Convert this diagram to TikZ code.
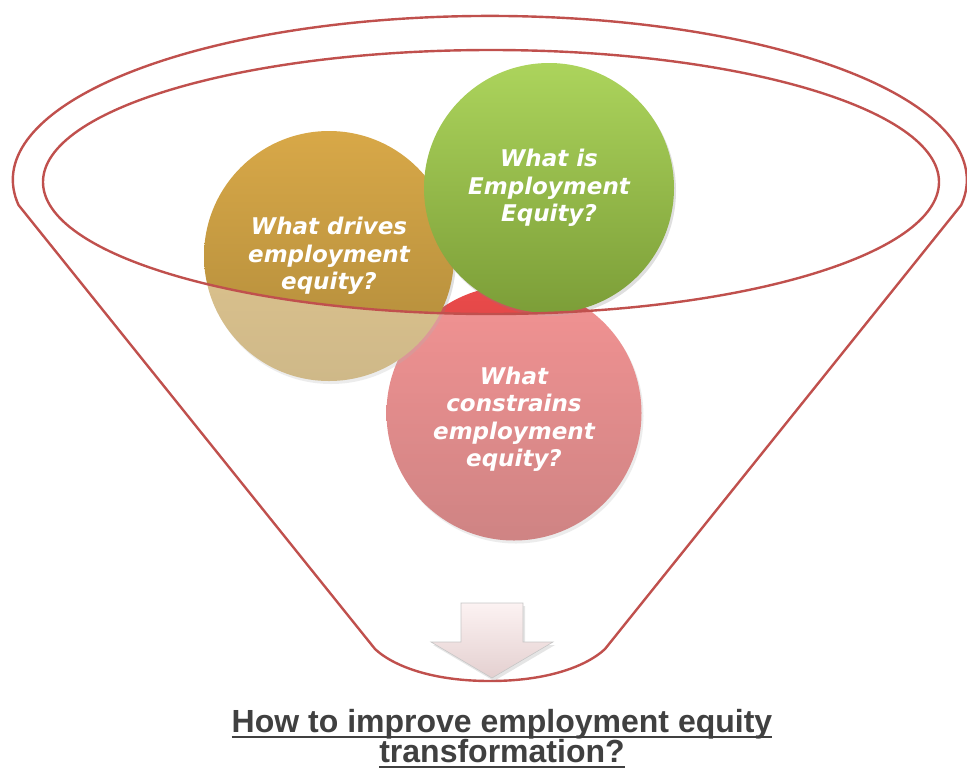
\documentclass[tikz,border=0pt]{standalone}
\usepackage{fontspec}
\setmainfont{Liberation Sans}
\newfontfamily\bubblefont{DejaVu Sans Bold Oblique}
\usetikzlibrary{shadows}

\definecolor{rimred}{RGB}{192,80,77}
\definecolor{goalgray}{RGB}{64,64,64}

\newcommand\thickul[1]{\setbox0\hbox{#1}\rlap{\rule[-5.5pt]{\wd0}{2.6pt}}\box0}

\tikzset{
  bubble/.style={circle, minimum size=250pt, inner sep=0pt, align=center, text=white,
    font=\bubblefont\fontsize{23}{27.5}\selectfont, shading=axis,
    drop shadow={shadow xshift=2pt, shadow yshift=-3pt, opacity=.25}},
  rim/.style={draw=rimred, line width=2.4pt}
}

\begin{document}
\begin{tikzpicture}[x=1pt,y=-1pt]
  \useasboundingbox (0,0) rectangle (967,769);
  \coordinate (rimL) at (18.5,205);
  \coordinate (baseL) at (375,649);
  \coordinate (baseR) at (605,649);
  \coordinate (tip) at (490,681);

  \node[bubble, top color={rgb,255:red,235;green,75;blue,75}, bottom color={rgb,255:red,175;green,50;blue,50}, minimum size=255pt]
    (constrains) at (514,413) {\rule{0pt}{30pt}What\\constrains\\employment\\equity?};
  \node[bubble, top color={rgb,255:red,216;green,168;blue,72}, bottom color={rgb,255:red,175;green,138;blue,58}]
    (drives) at (329,256) {What drives\\employment\\equity?};
  \node[bubble, top color={rgb,255:red,172;green,212;blue,92}, bottom color={rgb,255:red,124;green,158;blue,56}]
    (whatis) at (549,188) {What is\\Employment\\Equity?};

  \fill[white, opacity=.4, even odd rule] (baseL) -- (rimL)
    arc[start angle=171.2, end angle=368.8, x radius=477, y radius=164] -- (baseR)
    .. controls (588,665) and (550,681) .. (tip) .. controls (430,681) and (392,665) .. (baseL) -- cycle
    (491,182) ellipse[x radius=448, y radius=132];

  \draw[rim] (baseL) -- (rimL)
    arc[start angle=171.2, end angle=368.8, x radius=477, y radius=164] -- (baseR)
    .. controls (588,665) and (550,681) .. (tip) .. controls (430,681) and (392,665) .. (baseL);
  \draw[rim] (491,182) ellipse[x radius=448, y radius=132];

  \shade[top color={rgb,255:red,252;green,242;blue,242}, bottom color={rgb,255:red,228;green,208;blue,208}, draw=gray!45, line width=.6pt,
    drop shadow={shadow xshift=2pt, shadow yshift=-3pt, opacity=.2}]
    (461,603) -- (523,603) -- (523,642) -- (553,642) -- (492,678) -- (431,642) -- (461,642) -- cycle;

  \node[align=center, inner sep=0pt, text=goalgray, font=\bfseries\fontsize{32}{30}\selectfont]
    (goal) at (502,739) {\thickul{How to improve employment equity}\\\thickul{transformation?}};
\end{tikzpicture}
\end{document}
